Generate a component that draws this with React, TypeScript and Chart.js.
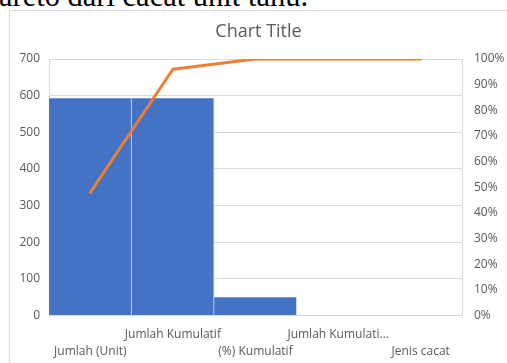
import React, { useEffect, useRef } from "react";
import { Chart, registerables } from "chart.js";

Chart.register(...registerables);

const categories = ["Jumlah (Unit)", "Jumlah Kumulatif", "(%) Kumulatif", "Jumlah Kumulati…", "Jenis cacat"];
const barValues = [593, 593, 50, 0, 0];
const cumulativePercent = [48, 96, 100, 100, 100];
const leftTicks = [0, 100, 200, 300, 400, 500, 600, 700];
const rightTicks = [0, 10, 20, 30, 40, 50, 60, 70, 80, 90, 100];
const chartTitle = "Chart Title";
const headingText = "Pareto dari cacat unit tahu.";

const FONT = "'Open Sans', Lato, sans-serif";
const GRAY = "#595959";
const GRID = "#d9d9d9";

export default function App() {
  const ref = useRef<HTMLCanvasElement | null>(null);

  useEffect(() => {
    if (!ref.current) return;
    const chart = new Chart(ref.current, {
      type: "bar",
      data: {
        labels: categories,
        datasets: [
          {
            type: "line",
            label: "Kumulatif (%)",
            data: cumulativePercent,
            yAxisID: "y1",
            borderColor: "#ED7D31",
            backgroundColor: "#ED7D31",
            borderWidth: 3,
            pointRadius: 0,
            tension: 0,
            borderCapStyle: "round",
            borderJoinStyle: "round",
            order: 0,
          },
          {
            type: "bar",
            label: "Jumlah",
            data: barValues,
            yAxisID: "y",
            backgroundColor: "#4472C4",
            borderColor: "#e3e9f5",
            borderWidth: { top: 0, bottom: 0, left: 0, right: 1 },
            borderSkipped: false,
            categoryPercentage: 1,
            barPercentage: 1,
            order: 1,
          },
        ],
      },
      options: {
        animation: false,
        responsive: false,
        maintainAspectRatio: false,
        layout: { padding: 0 },
        plugins: {
          legend: { display: false },
          tooltip: { enabled: false },
          title: {
            display: true,
            text: chartTitle,
            color: GRAY,
            font: { family: FONT, size: 18, weight: "normal", lineHeight: 1.2 },
            padding: { top: 10.2, bottom: 16.2 },
          },
        },
        scales: {
          x: {
            offset: true,
            grid: { display: false, drawTicks: false },
            border: { display: true, color: GRID, width: 1 },
            ticks: {
              color: GRAY,
              font: { family: FONT, size: 12, lineHeight: 17 / 12 },
              padding: 11,
              maxRotation: 0,
              minRotation: 0,
              autoSkip: false,
              callback: (_v: any, i: number) => (i % 2 === 1 ? [categories[i], ""] : ["", categories[i]]),
            },
            afterFit: (s: any) => {
              s.height = 47.5;
            },
          },
          y: {
            position: "left",
            min: 0,
            max: 700,
            afterBuildTicks: (s: any) => {
              s.ticks = leftTicks.map((v) => ({ value: v }));
            },
            grid: { color: GRID, lineWidth: 1, drawTicks: false },
            border: { display: true, color: GRID, width: 1 },
            ticks: {
              color: GRAY,
              font: { family: FONT, size: 12 },
              padding: 9,
            },
            afterFit: (s: any) => {
              s.width = 39;
            },
          },
          y1: {
            position: "right",
            min: 0,
            max: 100,
            afterBuildTicks: (s: any) => {
              s.ticks = rightTicks.map((v) => ({ value: v }));
            },
            grid: { display: false, drawTicks: false },
            border: { display: true, color: GRID, width: 1 },
            ticks: {
              color: GRAY,
              font: { family: FONT, size: 12 },
              padding: 12,
              callback: (v: any) => `${v}%`,
            },
            afterFit: (s: any) => {
              s.width = 45;
            },
          },
        },
      },
    });
    return () => chart.destroy();
  }, []);

  return (
    <div style={{ position: "fixed", inset: 0, background: "#fff", overflow: "hidden" }}>
      <div
        style={{
          position: "absolute",
          left: -18,
          top: -19,
          fontFamily: "'Liberation Serif', 'Times New Roman', serif",
          fontSize: 30.5,
          lineHeight: "30.5px",
          color: "#000",
          whiteSpace: "nowrap",
        }}
      >
        {headingText}
      </div>
      <div
        style={{
          position: "absolute",
          left: 9,
          top: 10,
          width: 600,
          height: 400,
          border: `1px solid ${GRID}`,
          boxSizing: "border-box",
        }}
      />
      <canvas
        ref={ref}
        width={497}
        height={352}
        style={{ position: "absolute", left: 10, top: 11, width: 497, height: 352 }}
      />
    </div>
  );
}
